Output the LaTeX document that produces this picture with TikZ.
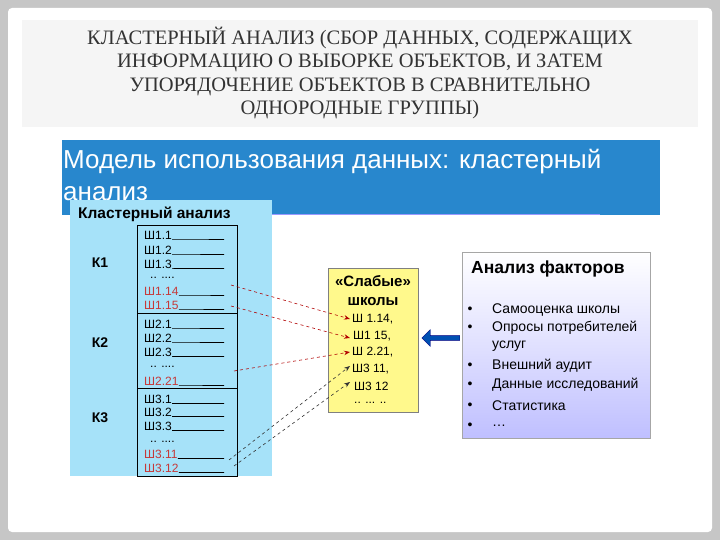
\documentclass[tikz,border=0pt]{standalone}
\usepackage{fontspec}
\setmainfont{Liberation Sans}
\newfontfamily\serifx{Liberation Serif}
\usetikzlibrary{arrows.meta,shapes.arrows}
\definecolor{banner}{RGB}{40,135,205}
\begin{document}
\begin{tikzpicture}[x=1pt,y=-1pt,
  item/.style={anchor=west,font=\fontsize{12}{12}\selectfont,inner sep=0pt},
  reditem/.style={item,text=red!55!gray},
  uline/.style={draw=black,line width=0.6pt},
  redarr/.style={red!70!black,dashed,line width=0.6pt,-{Stealth[length=6pt]}},
  darkarr/.style={black!80,dashed,line width=0.6pt,-{Stealth[length=6pt]}},
  fitem/.style={anchor=west,font=\fontsize{14}{14}\selectfont,inner sep=0pt},
  bul/.style={anchor=center,font=\fontsize{14}{14}\selectfont,inner sep=0pt}]
\useasboundingbox (0,0) rectangle (720,540);
\fill[gray!45] (0,0) rectangle (720,540);
\fill[white,rounded corners=4pt] (8,8) rectangle (712,532);
\fill[gray!8] (22,20) rectangle (698,127);
\node[font=\serifx\fontsize{20.5}{23.5}\selectfont,align=center,text=black!80] (title) at (360,73)
 {КЛАСТЕРНЫЙ АНАЛИЗ (СБОР ДАННЫХ, СОДЕРЖАЩИХ\\ИНФОРМАЦИЮ О ВЫБОРКЕ ОБЪЕКТОВ, И ЗАТЕМ\\УПОРЯДОЧЕНИЕ ОБЪЕКТОВ В СРАВНИТЕЛЬНО\\ОДНОРОДНЫЕ ГРУППЫ)};
\fill[white] (62,140) rectangle (660,478);
\fill[banner] (62,140) rectangle (660,215);
\node[anchor=west,text=white,font=\fontsize{26}{26}\selectfont,inner sep=0pt] (bt1) at (63,162) {Модель использования данных: кластерный};
\node[anchor=west,text=white,font=\fontsize{26}{26}\selectfont,inner sep=0pt] (bt2) at (63,194) {анализ};
\fill[cyan!35] (70,200) rectangle (272,476);
\draw[blue!40,line width=1pt] (272,215) -- (600,215);
\node[anchor=west,font=\bfseries\fontsize{15.5}{16}\selectfont,inner sep=0pt] (ct) at (78,214) {Кластерный анализ};
\draw[line width=0.7pt] (137,225) rectangle (237,476);
\draw[line width=1pt] (137,313) -- (237,313);
\draw[line width=0.7pt] (137,388) -- (237,388);
\node[font=\bfseries\fontsize{14}{14}\selectfont] (k1) at (100,263) {К1};
\node[font=\bfseries\fontsize{14}{14}\selectfont] (k2) at (100,343) {К2};
\node[font=\bfseries\fontsize{14}{14}\selectfont] (k3) at (100,418) {К3};
\foreach \t/\y/\s in {Ш1.1/235/item,Ш1.2/250/item,Ш1.3/264/item,Ш1.14/291/reditem,Ш1.15/305/reditem,
  Ш2.1/324/item,Ш2.2/338/item,Ш2.3/352/item,Ш2.21/381/reditem,
  Ш3.1/399/item,Ш3.2/412/item,Ш3.3/426/item,Ш3.11/454/reditem,Ш3.12/468/reditem}{
  \node[\s] (n\y) at (144,\y) {\t};
  \draw[uline] (n\y.south east) -- (224,\y+4.5);
}
\foreach \y in {278,367,442}{\node[item] (d\y) at (150,\y) {.. ....};}
\draw[fill=yellow!45,draw=gray] (328,268) rectangle (418,412);
\node[font=\bfseries\fontsize{15}{15}\selectfont] (sl) at (373,281) {«Слабые»};
\node[font=\bfseries\fontsize{15}{15}\selectfont] (sh) at (373,302) {школы};
\node[item] (y1) at (352,319) {Ш 1.14,};
\node[item] (y2) at (353,336) {Ш1 15,};
\node[item] (y3) at (352,352) {Ш 2.21,};
\node[item] (y4) at (352,369) {Ш3 11,};
\node[item] (y5) at (354,386) {Ш3 12};
\node[item] (y6) at (354,403) {.. ... ..};
\coordinate (s1) at (231,285);
\coordinate (s2) at (231,306);
\coordinate (s3) at (234,371);
\coordinate (s4) at (229,460);
\coordinate (s5) at (234,466);
\draw[redarr] (s1) -- ([xshift=-2pt]y1.west);
\draw[redarr] (s2) -- ([xshift=-3pt,yshift=-2pt]y2.west);
\draw[redarr] (s3) -- ([xshift=-2pt]y3.west);
\draw[darkarr] (s4) -- ([xshift=-2pt,yshift=3pt]y4.west);
\draw[darkarr] (s5) -- ([xshift=-4pt,yshift=4pt]y5.west);
\shade[top color=white,bottom color=blue!25,middle color=blue!12] (462,252) rectangle (650,438);
\draw[gray!70] (462,252) rectangle (650,438);
\node[anchor=west,font=\bfseries\fontsize{17.5}{18}\selectfont,inner sep=0pt] (ft) at (471,269) {Анализ факторов};
\foreach \y/\t in {310/Самооценка школы,328/Опросы потребителей,366/Внешний аудит,385/Данные исследований,406/Статистика,426/\dots}{
  \node[bul] (b\y) at (470,\y) {•};
  \node[fitem] (f\y) at (492,\y) {\t};
}
\node[fitem] (f345) at (492,346) {услуг};
\node[single arrow,shape border rotate=180,fill=blue!55!cyan!70!black,draw=blue!50!black,minimum height=38pt,minimum width=17pt,single arrow head extend=3pt,inner sep=1pt] (ba) at (442,338) {};
\end{tikzpicture}
\end{document}
